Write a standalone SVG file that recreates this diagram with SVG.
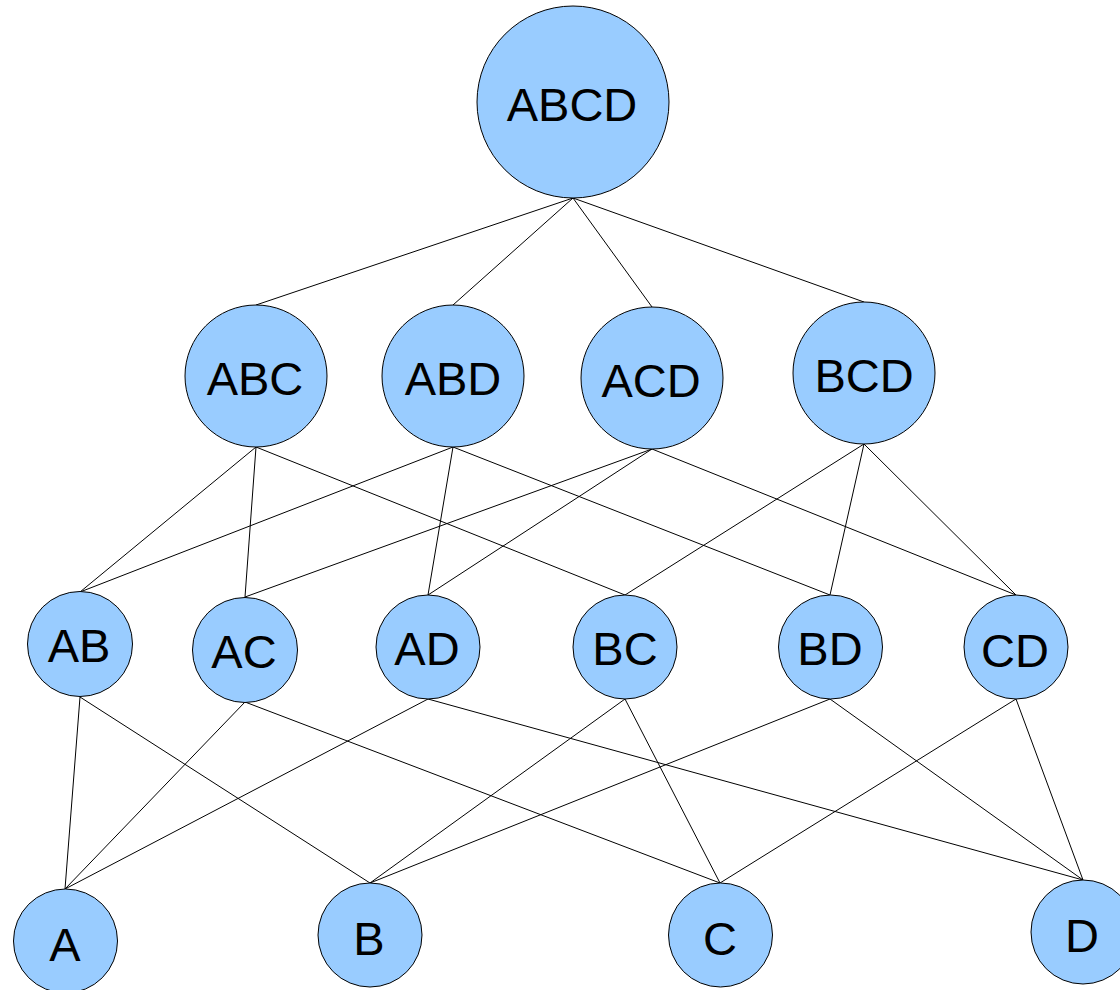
<svg xmlns="http://www.w3.org/2000/svg" width="1120" height="990" viewBox="0 0 1120 990">
<style>
.n circle{fill:#99ccff;stroke:#000;stroke-width:1}
.n text{font-family:"Liberation Sans",Arial,sans-serif;font-size:47px;fill:#000;text-anchor:middle}
#edges line{stroke:#000;stroke-width:1}
</style>
<rect width="1120" height="990" fill="#fff"/>
<g id="edges">
<line x1="573" y1="198" x2="256" y2="305"/>
<line x1="573" y1="198" x2="453" y2="305"/>
<line x1="573" y1="198" x2="652" y2="307"/>
<line x1="573" y1="198" x2="864" y2="302"/>
<line x1="256" y1="447" x2="80" y2="592"/>
<line x1="256" y1="447" x2="245" y2="597"/>
<line x1="256" y1="447" x2="625" y2="595"/>
<line x1="453" y1="447" x2="80" y2="592"/>
<line x1="453" y1="447" x2="428" y2="595"/>
<line x1="453" y1="447" x2="830" y2="595"/>
<line x1="652" y1="449" x2="245" y2="597"/>
<line x1="652" y1="449" x2="428" y2="595"/>
<line x1="652" y1="449" x2="1016" y2="595"/>
<line x1="864" y1="444" x2="625" y2="595"/>
<line x1="864" y1="444" x2="830" y2="595"/>
<line x1="864" y1="444" x2="1016" y2="595"/>
<line x1="80" y1="697" x2="65" y2="889"/>
<line x1="80" y1="697" x2="370" y2="883"/>
<line x1="245" y1="702" x2="65" y2="889"/>
<line x1="245" y1="702" x2="720" y2="883"/>
<line x1="428" y1="699" x2="65" y2="889"/>
<line x1="428" y1="699" x2="1083" y2="880"/>
<line x1="625" y1="699" x2="370" y2="883"/>
<line x1="625" y1="699" x2="720" y2="883"/>
<line x1="830" y1="699" x2="370" y2="883"/>
<line x1="830" y1="699" x2="1083" y2="880"/>
<line x1="1016" y1="699" x2="720" y2="883"/>
<line x1="1016" y1="699" x2="1083" y2="880"/>
</g>
<g id="ABCD" class="n"><circle cx="573" cy="102" r="96"/><text x="572" y="121">ABCD</text></g>
<g id="ABC" class="n"><circle cx="256" cy="376" r="71"/><text x="255" y="395">ABC</text></g>
<g id="ABD" class="n"><circle cx="453" cy="376" r="71"/><text x="453" y="395">ABD</text></g>
<g id="ACD" class="n"><circle cx="652" cy="378" r="71"/><text x="651" y="397">ACD</text></g>
<g id="BCD" class="n"><circle cx="864" cy="373" r="71"/><text x="864" y="392">BCD</text></g>
<g id="AB" class="n"><circle cx="80" cy="644" r="52.5"/><text x="79" y="662">AB</text></g>
<g id="AC" class="n"><circle cx="245" cy="650" r="52.5"/><text x="244" y="668">AC</text></g>
<g id="AD" class="n"><circle cx="428" cy="647" r="52"/><text x="427" y="665">AD</text></g>
<g id="BC" class="n"><circle cx="625" cy="647" r="52"/><text x="625" y="665">BC</text></g>
<g id="BD" class="n"><circle cx="830.5" cy="647" r="52"/><text x="830" y="665">BD</text></g>
<g id="CD" class="n"><circle cx="1016" cy="647" r="52"/><text x="1015" y="667">CD</text></g>
<g id="A" class="n"><circle cx="65.5" cy="941" r="52"/><text x="65" y="961">A</text></g>
<g id="B" class="n"><circle cx="370" cy="935" r="52"/><text x="369" y="955">B</text></g>
<g id="C" class="n"><circle cx="720.5" cy="935" r="52"/><text x="720" y="955">C</text></g>
<g id="D" class="n"><circle cx="1083" cy="932" r="52"/><text x="1082" y="952">D</text></g>
</svg>
